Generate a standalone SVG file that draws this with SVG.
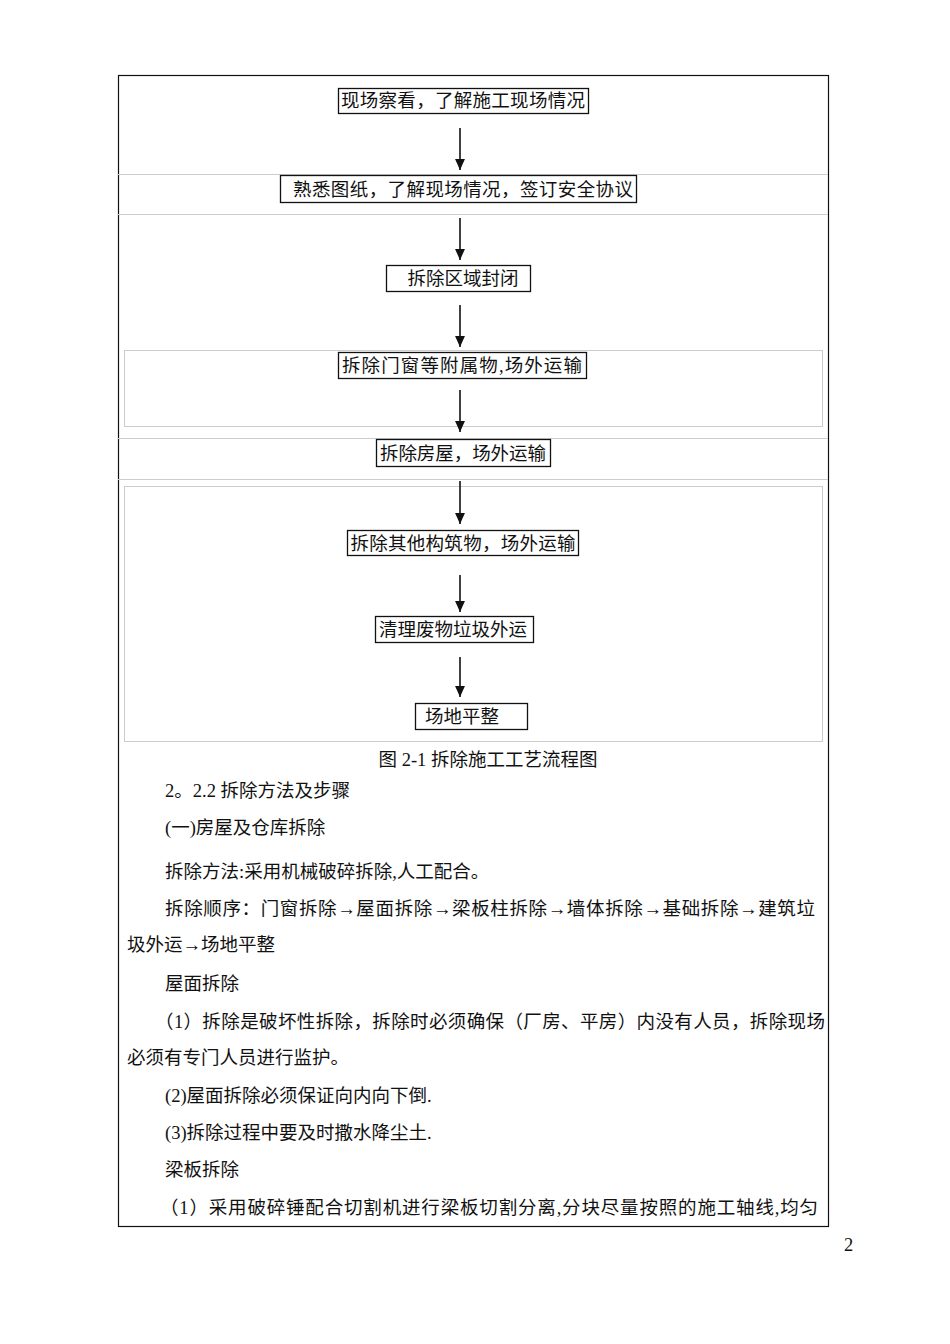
<svg xmlns="http://www.w3.org/2000/svg" width="950" height="1344" viewBox="0 0 950 1344">
<style>
text{font-family:"Liberation Serif","Noto Sans CJK SC",serif;font-size:18.5px;fill:#111}
.n rect{fill:#fff;stroke:#111;stroke-width:1.3}
.n text{text-anchor:middle}
.lt{stroke:#ccc;stroke-width:1;fill:none}
.c line{stroke:#111;stroke-width:1.6}
</style>
<defs>
<marker id="b" viewBox="0 0 10 10" refX="10" refY="5" markerWidth="12" markerHeight="11" orient="auto" markerUnits="userSpaceOnUse"><path d="M0,0.5 L10,5 L0,9.5 Z" fill="#111"/></marker></defs>
<rect x="0" y="0" width="950" height="1344" fill="#fff"/>
<rect x="118.5" y="75.5" width="710" height="1151" fill="none" stroke="#111" stroke-width="1.2"/>
<line class="lt" x1="118" y1="174.5" x2="828" y2="174.5"/>
<line class="lt" x1="118" y1="214.5" x2="828" y2="214.5"/>
<rect class="lt" x="124.5" y="350.5" width="698" height="76"/>
<line class="lt" x1="118" y1="438.5" x2="828" y2="438.5"/>
<line class="lt" x1="118" y1="479.5" x2="828" y2="479.5"/>
<rect class="lt" x="124.5" y="486.5" width="698" height="255"/>
<g class="c">
<line x1="460" y1="128" x2="460" y2="170" marker-end="url(#b)"/>
<line x1="460" y1="218" x2="460" y2="260" marker-end="url(#b)"/>
<line x1="460" y1="305" x2="460" y2="347" marker-end="url(#b)"/>
<line x1="460" y1="390" x2="460" y2="432" marker-end="url(#b)"/>
<line x1="460" y1="481" x2="460" y2="524" marker-end="url(#b)"/>
<line x1="460" y1="575" x2="460" y2="612" marker-end="url(#b)"/>
<line x1="460" y1="657" x2="460" y2="697" marker-end="url(#b)"/>
</g>
<g id="n1" class="n"><rect x="338.5" y="88.5" width="250" height="25"/><text x="463" y="107" textLength="244">现场察看，了解施工现场情况</text></g>
<g id="n2" class="n"><rect x="280.5" y="175.5" width="356" height="27"/><text x="463" y="196" textLength="340">熟悉图纸，了解现场情况，签订安全协议</text></g>
<g id="n3" class="n"><rect x="386.5" y="265.5" width="144" height="26"/><text x="463" y="285">拆除区域封闭</text></g>
<g id="n4" class="n"><rect x="338.5" y="352.5" width="248" height="26"/><text x="462" y="372" textLength="240">拆除门窗等附属物,场外运输</text></g>
<g id="n5" class="n"><rect x="376.5" y="439.5" width="174" height="27"/><text x="463" y="460" textLength="166">拆除房屋，场外运输</text></g>
<g id="n6" class="n"><rect x="347.5" y="530.5" width="231" height="25"/><text x="463" y="550" textLength="225">拆除其他构筑物，场外运输</text></g>
<g id="n7" class="n"><rect x="375.5" y="616.5" width="158" height="26"/><text x="453" y="636">清理废物垃圾外运</text></g>
<g id="n8" class="n"><rect x="415.5" y="703.5" width="112" height="26"/><text x="462" y="723">场地平整</text></g>
<text x="488" y="766" text-anchor="middle">图 2-1 拆除施工工艺流程图</text>
<text x="165" y="797">2。2.2 拆除方法及步骤</text>
<text x="165" y="834">(一)房屋及仓库拆除</text>
<text x="165" y="878">拆除方法:采用机械破碎拆除,人工配合。</text>
<text x="165" y="915" textLength="650">拆除顺序：门窗拆除→屋面拆除→梁板柱拆除→墙体拆除→基础拆除→建筑垃</text>
<text x="127" y="951">圾外运→场地平整</text>
<text x="165" y="990">屋面拆除</text>
<text x="155" y="1028" textLength="670">（1）拆除是破坏性拆除，拆除时必须确保（厂房、平房）内没有人员，拆除现场</text>
<text x="127" y="1064">必须有专门人员进行监护。</text>
<text x="165" y="1102">(2)屋面拆除必须保证向内向下倒.</text>
<text x="165" y="1139">(3)拆除过程中要及时撒水降尘土.</text>
<text x="165" y="1176">梁板拆除</text>
<text x="160" y="1214" textLength="658">（1）采用破碎锤配合切割机进行梁板切割分离,分块尽量按照的施工轴线,均匀</text>
<text x="844" y="1251" font-size="14">2</text>
</svg>
